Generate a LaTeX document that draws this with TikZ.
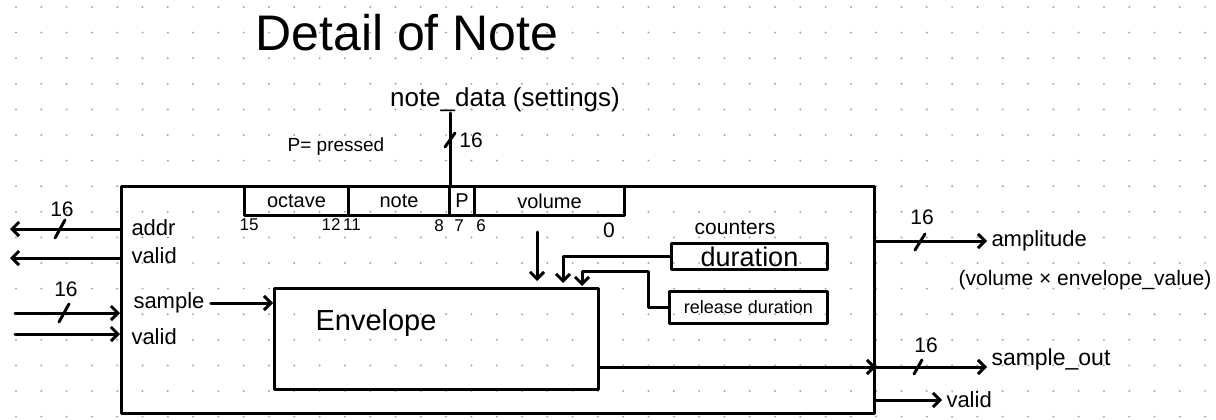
\documentclass[tikz,border=0pt]{standalone}
\usepackage{fontspec}
\setmainfont{Liberation Sans}
\usetikzlibrary{arrows.meta}
\begin{document}
\begin{tikzpicture}[x=1pt,y=-1pt, line width=3pt, line cap=round, line join=round,
  arr/.style={-{Straight Barb[length=7pt,width=14pt]}},
  box/.style={draw, inner sep=0pt, line width=3pt},
  lbl/.style={font=\fontsize{22}{24}\selectfont, inner sep=0pt},
  fld/.style={box, anchor=north west, minimum height=29pt, font=\fontsize{20}{22}\selectfont},
  bitno/.style={font=\fontsize{17}{18}\selectfont, inner sep=0pt},
  busw/.style={font=\fontsize{21}{23}\selectfont, inner sep=0pt},
  dot/.style={fill=black!35}]
\useasboundingbox[fill=white] (0,0) rectangle (1216,420);
% dot grid
\foreach \i in {0,...,47}{\foreach \j in {0,...,16}{\fill[dot] (16+25.3*\i,7+25.6*\j) circle (1.1pt);}}
% title
\node[font=\fontsize{50}{54}\selectfont, inner sep=0pt] (title) at (407,33) {Detail of Note};
% outer block
\node[box, anchor=north west, minimum width=753pt, minimum height=227pt] (outer) at (120,185) {};
% register fields
\node[fld, minimum width=104pt] (oct) at (243,185) {octave};
\node[fld, minimum width=101pt] (nt) at (347,185) {note};
\node[fld, minimum width=25pt] (pf) at (448,185) {P};
\node[fld, minimum width=150pt] (vol) at (473,185) {volume};
% bit numbers
\node[bitno] (b15) at (249,225) {15};
\node[bitno] (b12) at (331,225) {12};
\node[bitno] (b11) at (352,225) {11};
\node[bitno] (b8) at (439,226) {8};
\node[bitno] (b7) at (459,226) {7};
\node[bitno] (b6) at (481,226) {6};
\node[font=\fontsize{21}{23}\selectfont, inner sep=0pt] (b0) at (609,230) {0};
% note_data input
\node[font=\fontsize{26}{28}\selectfont, inner sep=0pt] (nd) at (505,100) {note\_data (settings)};
\coordinate (ndt) at (450,113);
\draw (ndt) -- (ndt |- pf.north);
\draw (445,147) -- (455,133);
\node[busw] (w16n) at (471,140) {16};
\node[font=\fontsize{19}{21}\selectfont, inner sep=0pt] (pp) at (336,147) {P= pressed};
% left ports
\node[lbl, anchor=west] (addr) at (130,228) {addr};
\node[lbl, anchor=west] (vl1) at (130,256) {valid};
\node[lbl, anchor=west] (smp) at (132,303) {sample};
\node[lbl, anchor=west] (vl2) at (130,337) {valid};
\coordinate (addrL) at (10,229);
\coordinate (vl1L) at (10,258);
\coordinate (smpL) at (15,313);
\coordinate (vl2L) at (15,334);
\draw[arr] (outer.west |- addrL) -- (addrL);
\draw[arr] (outer.west |- vl1L) -- (vl1L);
\draw[arr] (smpL) -- (outer.west |- smpL);
\draw[arr] (vl2L) -- (outer.west |- vl2L);
\draw (55,238) -- (65,220);
\node[busw] (w16a) at (62,209) {16};
\draw (59,322) -- (69,304);
\node[busw] (w16s) at (66,289) {16};
% envelope
\node[box, anchor=north west, minimum width=324pt, minimum height=101pt] (env) at (273,287) {};
\node[font=\fontsize{29}{31}\selectfont, inner sep=0pt] (envl) at (376,323) {Envelope};
\draw[arr] ([xshift=5pt]smp.east) -- (env.west |- smp.east);
% counters
\node[font=\fontsize{21}{23}\selectfont, inner sep=0pt] (cnt) at (735,228) {counters};
\node[box, anchor=north west, minimum width=156pt, minimum height=26pt, font=\fontsize{27}{29}\selectfont] (dur) at (670,242) {duration};
\node[box, anchor=north west, minimum width=158pt, minimum height=32pt, font=\fontsize{18}{20}\selectfont] (rel) at (668,290) {release duration};
% inputs into envelope
\coordinate (vx) at (537,232);
\draw[arr, shorten >=6pt] (vx) -- (vx |- env.north);
\coordinate (dx) at (563,0);
\draw[arr, shorten >=4pt] (dur.west) -| (dx |- env.north);
\coordinate (rx) at (582,0);
\draw[arr, shorten >=1pt] (rel.west) -- ++(-20,0) |- (rx |- dur.south) -- (rx |- env.north);
% outputs
\coordinate (y367) at (0,367);
\draw[arr] (env.east |- y367) -- (outer.east |- y367);
\node[lbl, anchor=west] (ampl) at (990,241) {amplitude};
\node[font=\fontsize{21}{23}\selectfont, inner sep=0pt] (formula) at (1085,280) {(volume × envelope\_value)};
\draw[arr, shorten >=3pt] (outer.east |- ampl.west) -- (ampl.west);
\draw (915,250) -- (925,234);
\node[busw] (w16o) at (922,217) {16};
\node[font=\fontsize{23}{25}\selectfont, inner sep=0pt, anchor=west] (sout) at (990,360) {sample\_out};
\draw[arr, shorten >=3pt] (outer.east |- y367) -- (sout.west |- y367);
\draw (914,374) -- (922,360);
\node[busw] (w16so) at (926,345) {16};
\node[lbl, anchor=west] (vout) at (945,400) {valid};
\draw[arr, shorten >=3pt] (outer.east |- vout.west) -- (vout.west);
\end{tikzpicture}
\end{document}
